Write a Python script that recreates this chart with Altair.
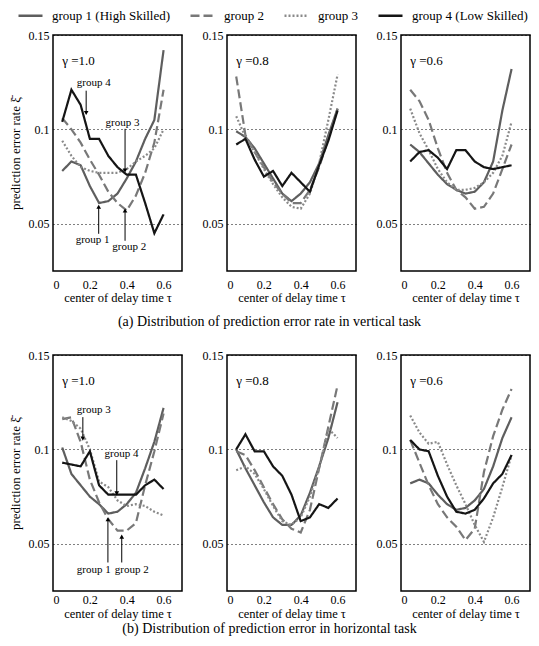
import altair as alt
import pandas as pd

TAU = [0.05, 0.10, 0.15, 0.20, 0.25, 0.30, 0.35, 0.40, 0.45, 0.50, 0.55, 0.60]
GROUPS = ["group 1 (High Skilled)", "group 2", "group 3", "group 4 (Low Skilled)"]
GAMMAS = ["\u03b3 =1.0", "\u03b3 =0.8", "\u03b3 =0.6"]
CAPTION_A = "(a) Distribution of prediction error rate in vertical task"
CAPTION_B = "(b) Distribution of prediction error in horizontal task"

# vertical task
V10_G1 = [0.078, 0.083, 0.081, 0.070, 0.061, 0.062, 0.066, 0.074, 0.083, 0.095, 0.105, 0.142]
V10_G2 = [0.106, 0.100, 0.093, 0.084, 0.076, 0.067, 0.061, 0.057, 0.065, 0.077, 0.093, 0.121]
V10_G3 = [0.094, 0.086, 0.080, 0.078, 0.077, 0.077, 0.077, 0.079, 0.083, 0.086, 0.090, 0.100]
V10_G4 = [0.104, 0.121, 0.113, 0.095, 0.095, 0.086, 0.080, 0.076, 0.076, 0.061, 0.045, 0.055]

V08_G1 = [0.099, 0.096, 0.090, 0.082, 0.074, 0.066, 0.062, 0.066, 0.072, 0.082, 0.097, 0.111]
V08_G2 = [0.128, 0.097, 0.088, 0.080, 0.072, 0.066, 0.061, 0.061, 0.068, 0.080, 0.095, 0.111]
V08_G3 = [0.107, 0.096, 0.088, 0.079, 0.071, 0.064, 0.059, 0.058, 0.066, 0.082, 0.105, 0.129]
V08_G4 = [0.092, 0.095, 0.084, 0.075, 0.078, 0.070, 0.077, 0.072, 0.067, 0.081, 0.094, 0.110]

V06_G1 = [0.092, 0.088, 0.082, 0.076, 0.071, 0.068, 0.066, 0.067, 0.072, 0.083, 0.110, 0.132]
V06_G2 = [0.121, 0.115, 0.105, 0.090, 0.077, 0.068, 0.064, 0.058, 0.059, 0.066, 0.079, 0.092]
V06_G3 = [0.111, 0.098, 0.089, 0.079, 0.072, 0.068, 0.068, 0.069, 0.072, 0.077, 0.086, 0.104]
V06_G4 = [0.083, 0.088, 0.089, 0.085, 0.079, 0.089, 0.089, 0.083, 0.080, 0.079, 0.080, 0.081]

# horizontal task
H10_G1 = [0.101, 0.087, 0.081, 0.075, 0.071, 0.066, 0.067, 0.071, 0.077, 0.090, 0.104, 0.122]
H10_G2 = [0.116, 0.117, 0.104, 0.084, 0.072, 0.063, 0.057, 0.057, 0.061, 0.081, 0.099, 0.119]
H10_G3 = [0.117, 0.115, 0.111, 0.100, 0.083, 0.080, 0.073, 0.070, 0.071, 0.070, 0.067, 0.065]
H10_G4 = [0.093, 0.092, 0.091, 0.099, 0.081, 0.076, 0.076, 0.076, 0.076, 0.081, 0.084, 0.079]

H08_G1 = [0.100, 0.090, 0.081, 0.072, 0.064, 0.060, 0.060, 0.065, 0.077, 0.091, 0.106, 0.125]
H08_G2 = [0.099, 0.097, 0.089, 0.080, 0.071, 0.063, 0.058, 0.056, 0.068, 0.090, 0.112, 0.134]
H08_G3 = [0.089, 0.091, 0.087, 0.079, 0.070, 0.062, 0.060, 0.064, 0.075, 0.090, 0.111, 0.106]
H08_G4 = [0.100, 0.108, 0.099, 0.099, 0.091, 0.086, 0.076, 0.062, 0.064, 0.071, 0.069, 0.074]

H06_G1 = [0.082, 0.084, 0.082, 0.076, 0.071, 0.068, 0.069, 0.073, 0.079, 0.091, 0.106, 0.117]
H06_G2 = [0.105, 0.093, 0.081, 0.071, 0.064, 0.059, 0.052, 0.058, 0.088, 0.107, 0.121, 0.132]
H06_G3 = [0.118, 0.109, 0.103, 0.104, 0.092, 0.081, 0.071, 0.060, 0.051, 0.064, 0.080, 0.097]
H06_G4 = [0.105, 0.100, 0.099, 0.086, 0.075, 0.067, 0.066, 0.068, 0.074, 0.082, 0.087, 0.097]

# annotations (gamma = 1.0 panels)
ANN_V_LABEL = ["group 4", "group 3", "group 1", "group 2"]
ANN_V_TX = [0.221, 0.377, 0.215, 0.414]
ANN_V_TY = [0.1246, 0.1034, 0.0412, 0.0378]
ANN_V_AX = [0.180, 0.391, 0.248, 0.391]
ANN_V_AY0 = [0.1205, 0.1003, 0.0447, 0.0410]
ANN_V_AY1 = [0.1087, 0.0782, 0.0590, 0.0570]

ANN_H_LABEL = ["group 3", "group 4", "group 1", "group 2"]
ANN_H_TX = [0.221, 0.372, 0.221, 0.427]
ANN_H_TY = [0.1210, 0.0973, 0.0363, 0.0363]
ANN_H_AX = [0.162, 0.346, 0.298, 0.373]
ANN_H_AY0 = [0.1171, 0.0943, 0.0401, 0.0401]
ANN_H_AY1 = [0.1057, 0.0767, 0.0630, 0.0538]

ROWS = [
    [[V10_G1, V10_G2, V10_G3, V10_G4], [V08_G1, V08_G2, V08_G3, V08_G4], [V06_G1, V06_G2, V06_G3, V06_G4]],
    [[H10_G1, H10_G2, H10_G3, H10_G4], [H08_G1, H08_G2, H08_G3, H08_G4], [H06_G1, H06_G2, H06_G3, H06_G4]],
]
ANNS = [
    (ANN_V_LABEL, ANN_V_TX, ANN_V_TY, ANN_V_AX, ANN_V_AY0, ANN_V_AY1),
    (ANN_H_LABEL, ANN_H_TX, ANN_H_TY, ANN_H_AX, ANN_H_AY0, ANN_H_AY1),
]
CAPTIONS = [CAPTION_A, CAPTION_B]

FONT = "Liberation Serif"
COLORS = ["#5e5e5e", "#787878", "#8a8a8a", "#151515"]
DASHES = [[1, 0], [9, 4], [2, 2], [1, 0]]
PW, PH = 129, 236
# per-row spacing of x labels / title / caption
ROW_LABEL_PAD = [8, 3]
ROW_TITLE_PAD = [1, 2]
ROW_CAPTION_OFFSET = [11, 2]

xscale = alt.Scale(domain=[0, 0.7], nice=False, zero=False)
yscale = alt.Scale(domain=[0.025, 0.15], nice=False, zero=False)


def panel(series, gamma, ann, first_col, r):
    rows = []
    for g, vals in zip(GROUPS, series):
        for t, v in zip(TAU, vals):
            rows.append({"tau": t, "err": v, "group": g})
    df = pd.DataFrame(rows)
    yaxis = alt.Axis(
        values=[0.05, 0.1, 0.15], format=".2~f", grid=True, gridDash=[1, 3],
        gridColor="black", gridWidth=1, ticks=False, domain=False,
        labelFont=FONT, labelFontSize=12, labelColor="black", labelPadding=4,
        title="prediction error rate \u03be\u0304" if first_col else None,
        titleFont=FONT, titleFontSize=13, titleFontWeight="normal", titleColor="black",
        titlePadding=6,
    )
    xaxis = alt.Axis(
        values=[0, 0.2, 0.4, 0.6], format=".1~f", grid=False, ticks=False, domain=False,
        labelFont=FONT, labelFontSize=12, labelColor="black", labelPadding=ROW_LABEL_PAD[r],
        title="center of delay time \u03c4", titleFont=FONT, titleFontSize=12.5,
        titleFontWeight="normal", titleColor="black", titlePadding=ROW_TITLE_PAD[r],
    )
    lines = alt.Chart(df).mark_line(strokeWidth=2.2).encode(
        x=alt.X("tau:Q", scale=xscale, axis=xaxis),
        y=alt.Y("err:Q", scale=yscale, axis=yaxis),
        color=alt.Color("group:N", scale=alt.Scale(domain=GROUPS, range=COLORS), title=None),
        strokeDash=alt.StrokeDash("group:N", scale=alt.Scale(domain=GROUPS, range=DASHES), title=None),
        order=alt.Order("tau:Q"),
    )
    gdf = pd.DataFrame({"x": [0.05], "y": [0.136], "t": [gamma]})
    glab = alt.Chart(gdf).mark_text(font=FONT, fontSize=13, align="left", baseline="middle", color="black").encode(
        x=alt.X("x:Q", scale=xscale), y=alt.Y("y:Q", scale=yscale), text="t:N"
    )
    layers = [lines, glab]
    if ann is not None:
        lab, tx, ty, ax, ay0, ay1 = ann
        adf = pd.DataFrame({"lab": lab, "tx": tx, "ty": ty, "ax": ax, "ay0": ay0, "ay1": ay1})
        adf["shape"] = ["triangle-down" if a > b else "triangle-up" for a, b in zip(ay0, ay1)]
        txt = alt.Chart(adf).mark_text(font=FONT, fontSize=11, baseline="middle", color="black").encode(
            x=alt.X("tx:Q", scale=xscale), y=alt.Y("ty:Q", scale=yscale), text="lab:N"
        )
        rule = alt.Chart(adf).mark_rule(color="black", strokeWidth=1).encode(
            x=alt.X("ax:Q", scale=xscale), y=alt.Y("ay0:Q", scale=yscale), y2="ay1:Q"
        )
        head = alt.Chart(adf).mark_point(filled=True, color="black", size=22, opacity=1).encode(
            x=alt.X("ax:Q", scale=xscale), y=alt.Y("ay1:Q", scale=yscale),
            shape=alt.Shape("shape:N", scale=None, legend=None),
        )
        layers += [rule, head, txt]
    return alt.layer(*layers).properties(width=PW, height=PH)


row_charts = []
for r in range(2):
    panels = []
    for c in range(3):
        panels.append(panel(ROWS[r][c], GAMMAS[c], ANNS[r] if c == 0 else None, c == 0, r))
    row_charts.append(
        alt.hconcat(*panels, spacing=18).properties(
            title=alt.TitleParams(CAPTIONS[r], orient="bottom", anchor="middle", font=FONT,
                                  fontSize=14, fontWeight="normal", color="black",
                                  offset=ROW_CAPTION_OFFSET[r])
        )
    )

chart = (
    alt.vconcat(*row_charts, spacing=18)
    .properties(padding={"left": 8, "top": 2, "right": 5, "bottom": 3})
    .configure_view(stroke="black", strokeWidth=1.5)
    .configure_legend(
        orient="none", legendX=-36, legendY=-33, direction="horizontal",
        symbolType="stroke", symbolSize=576, padding=0,
        symbolStrokeWidth=2.5, labelFont=FONT, labelFontSize=13, labelColor="black",
        columnPadding=14, labelOffset=8, labelLimit=300,
    )
)

chart.save("out.html", embed_options={"renderer": "svg", "actions": False})
